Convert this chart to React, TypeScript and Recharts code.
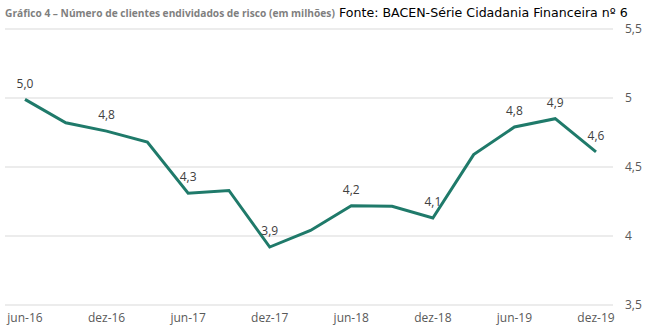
import React from "react";
import { LineChart, Line, XAxis, YAxis, CartesianGrid } from "recharts";

const periods = [
  "jun-16", "set-16", "dez-16", "mar-17", "jun-17", "set-17", "dez-17", "mar-18",
  "jun-18", "set-18", "dez-18", "mar-19", "jun-19", "set-19", "dez-19",
];
const clientes = [
  4.99, 4.82, 4.76, 4.68, 4.31, 4.33, 3.92, 4.04, 4.22, 4.215, 4.13, 4.59, 4.79, 4.85, 4.61,
];
const pointLabels = [
  "5,0", null, "4,8", null, "4,3", null, "3,9", null, "4,2", null, "4,1", null, "4,8", "4,9", "4,6",
];
const xTicks = ["jun-16", "dez-16", "jun-17", "dez-17", "jun-18", "dez-18", "jun-19", "dez-19"];
const yTicks = [3.5, 4, 4.5, 5, 5.5];

const data = periods.map((p, i) => ({ period: p, value: clientes[i], label: pointLabels[i] }));

const FONT = "'Open Sans', 'DejaVu Sans', sans-serif";

const renderLabel = (props: any) => {
  const { x, y, index } = props;
  const t = pointLabels[index];
  if (!t) return null;
  return (
    <text key={index} x={x} y={y - 15} textAnchor="middle" dominantBaseline="middle"
      fontSize={12} fill="#404040" fontFamily={FONT}>
      {t}
    </text>
  );
};

export default function App() {
  return (
    <div style={{ position: "absolute", left: 0, top: 0, width: 646, height: 329, background: "#fff" }}>
      <div style={{ position: "absolute", left: 5, top: 5, fontFamily: FONT, fontWeight: 700, fontSize: 10.2, color: "#7f7f7f", whiteSpace: "nowrap", lineHeight: "16px" }}>
        Gráfico 4 – Número de clientes endividados de risco (em milhões)
      </div>
      <div style={{ position: "absolute", left: 339, top: 4, fontFamily: "'DejaVu Sans', Verdana, sans-serif", fontSize: 12.6, color: "#000", whiteSpace: "nowrap", lineHeight: "18px" }}>
        Fonte: BACEN-Série Cidadania Financeira nº 6
      </div>
      <LineChart width={646} height={329} data={data} margin={{ top: 29, right: 0, bottom: 0, left: 5 }}>
        <CartesianGrid horizontal vertical={false} stroke="#d9d9d9" />
        <XAxis dataKey="period" ticks={xTicks} interval={0} axisLine={false} tickLine={false}
          height={24} padding={{ left: 20, right: 17 }}
          tick={{ fontSize: 12, fill: "#595959", fontFamily: FONT }} />
        <YAxis orientation="right" domain={[3.5, 5.5]} ticks={yTicks} axisLine={false} tickLine={false}
          width={33} tickMargin={6}
          tickFormatter={(v: number) => String(v).replace(".", ",")}
          tick={{ fontSize: 12, fill: "#595959", fontFamily: FONT, textAnchor: "start" }} />
        <Line type="linear" dataKey="value" stroke="#1f7a6a" strokeWidth={3} dot={false}
          isAnimationActive={false} label={renderLabel} />
      </LineChart>
    </div>
  );
}
